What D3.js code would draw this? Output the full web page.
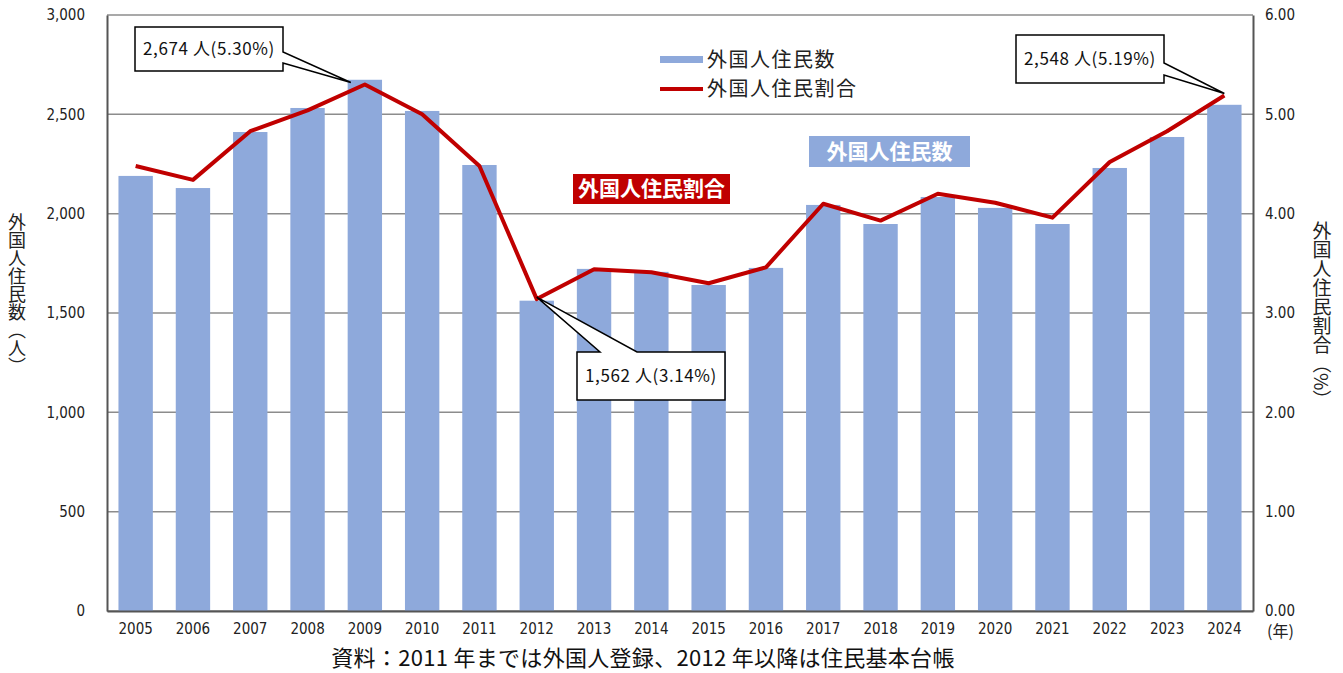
<!DOCTYPE html>
<html>
<head>
<meta charset="utf-8">
<script src="https://cdn.jsdelivr.net/npm/d3@7"></script>
<style>
  body { margin: 0; background: #fff; }
  text { font-family: "Noto Sans CJK JP", "Noto Sans", sans-serif; }
</style>
</head>
<body>
<div id="chart"></div>
<script>
var years = ["2005","2006","2007","2008","2009","2010","2011","2012","2013","2014",
             "2015","2016","2017","2018","2019","2020","2021","2022","2023","2024"];
var residents = [2190, 2129, 2411, 2532, 2674, 2517, 2245, 1562, 1722, 1707,
                 1641, 1727, 2044, 1948, 2084, 2029, 1948, 2230, 2386, 2548];
var ratio = [4.48, 4.34, 4.83, 5.04, 5.30, 5.00, 4.48, 3.14, 3.44, 3.41,
             3.30, 3.46, 4.10, 3.93, 4.20, 4.11, 3.96, 4.52, 4.83, 5.19];
var leftTicks = [0, 500, 1000, 1500, 2000, 2500, 3000];
var rightTicks = [0, 1, 2, 3, 4, 5, 6];

var padding = {top: 15, right: 90, bottom: 62, left: 107};
var width = 1343 - padding.left - padding.right;
var height = 673 - padding.top - padding.bottom;

var x = d3.scaleBand()
  .domain(years)
  .range([0, width])
  .paddingInner(0.4)
  .paddingOuter(0.2);
var y = d3.scaleLinear().domain([0, 3000]).range([height, 0]);
var y2 = d3.scaleLinear().domain([0, 6]).range([height, 0]);

var svg = d3.select("#chart").append("svg")
    .attr("width", 1343)
    .attr("height", 673);
var canvas = svg.append("g")
    .attr("transform", "translate(" + padding.left + "," + padding.top + ")");

// gridlines
canvas.selectAll(".grid")
  .data(leftTicks)
  .enter().append("line")
    .attr("x1", 0).attr("x2", width)
    .attr("y1", function(d) { return y(d); })
    .attr("y2", function(d) { return y(d); })
    .attr("stroke", "#8c8c8c")
    .attr("stroke-width", 1.5);

// bars
canvas.selectAll(".bar")
  .data(residents)
  .enter().append("rect")
    .attr("class", "bar")
    .attr("fill", "#8EA9DB")
    .attr("x", function(d, i) { return x(years[i]); })
    .attr("width", x.bandwidth())
    .attr("y", function(d) { return y(d); })
    .attr("height", function(d) { return height - y(d); });

// axes
var yAxis = d3.axisLeft(y).tickValues(leftTicks).tickSize(0).tickPadding(22)
  .tickFormat(d3.format(","));
var y2Axis = d3.axisRight(y2).tickValues(rightTicks).tickSize(0).tickPadding(12)
  .tickFormat(d3.format(".2f"));
var xAxis = d3.axisBottom(x).tickSize(0).tickPadding(12);

function styleAxis(g) {
  g.select(".domain").attr("stroke", "#555").attr("stroke-width", 2);
  g.selectAll("text").attr("fill", "#222").style("font-size", "15px")
    .style("font-family", "'Liberation Sans Narrow', 'DejaVu Sans Condensed', sans-serif");
}

canvas.append("g").call(yAxis).call(styleAxis);
canvas.append("g").attr("transform", "translate(" + width + ",0)").call(y2Axis).call(styleAxis);
canvas.append("g").attr("transform", "translate(0," + height + ")").call(xAxis).call(styleAxis);

canvas.append("text")
  .attr("x", width + 14).attr("y", height + 26)
  .style("font-size", "16px").attr("fill", "#222")
  .text("(年)");

// line
var line = d3.line()
  .x(function(d, i) { return x(years[i]) + x.bandwidth() / 2; })
  .y(function(d) { return y2(d); });

canvas.append("path")
  .datum(ratio)
  .attr("fill", "none")
  .attr("stroke", "#C00000")
  .attr("stroke-width", 4)
  .attr("stroke-linejoin", "round")
  .attr("d", line);

// axis titles (vertical)
svg.append("text")
  .attr("x", 17).attr("y", 213)
  .style("writing-mode", "vertical-rl")
  .style("font-size", "18px").attr("fill", "#222")
  .text("外国人住民数（人）");
svg.append("text")
  .attr("x", 1322).attr("y", 221)
  .style("writing-mode", "vertical-rl")
  .style("font-size", "19px").attr("fill", "#222")
  .text("外国人住民割合（%）");

// legend
var legend = canvas.append("g").attr("transform", "translate(553,0)");
legend.append("rect").attr("x", 0).attr("y", 41).attr("width", 43).attr("height", 7).attr("fill", "#8EA9DB");
legend.append("text").attr("x", 47).attr("y", 52).style("font-size", "20px")
  .style("letter-spacing", "1.5px").attr("fill", "#222").text("外国人住民数");
legend.append("line").attr("x1", 0).attr("x2", 43).attr("y1", 74).attr("y2", 74)
  .attr("stroke", "#C00000").attr("stroke-width", 4);
legend.append("text").attr("x", 47).attr("y", 81).style("font-size", "20px")
  .style("letter-spacing", "1.5px").attr("fill", "#222").text("外国人住民割合");

// series labels
function tagLabel(px, py, w, h, fill, label, size) {
  canvas.append("rect").attr("x", px).attr("y", py).attr("width", w).attr("height", h).attr("fill", fill);
  canvas.append("text").attr("x", px + w / 2).attr("y", py + h / 2 + 7)
    .attr("text-anchor", "middle").attr("fill", "#fff")
    .style("font-size", size + "px").style("font-weight", "bold").text(label);
}
tagLabel(466, 159, 157, 30, "#C00000", "外国人住民割合", 21);
tagLabel(702, 121, 161, 31, "#8EA9DB", "外国人住民数", 21);

// callouts
function callout(i, dx, bx, by, bw, bh, wedge) {
  var tx = x(years[i]) + x.bandwidth() / 2 + dx;
  var ty = y2(ratio[i]) - 2;
  var pts;
  if (wedge.side === "right") {
    pts = [[bx, by], [bx + bw, by], [bx + bw, wedge.a], [tx, ty], [bx + bw, wedge.b], [bx + bw, by + bh], [bx, by + bh]];
  } else {
    pts = [[bx, by], [wedge.a, by], [tx, ty], [wedge.b, by], [bx + bw, by], [bx + bw, by + bh], [bx, by + bh]];
  }
  canvas.append("path")
    .attr("d", "M" + pts.join("L") + "Z")
    .attr("fill", "#fff").attr("stroke", "#000").attr("stroke-width", 1.5);
  canvas.append("text")
    .attr("x", bx + bw / 2).attr("y", by + bh / 2 + 6)
    .attr("text-anchor", "middle").attr("fill", "#111")
    .style("font-size", "17px")
    .style("letter-spacing", "0.6px")
    .text(d3.format(",")(residents[i]) + " 人(" + ratio[i].toFixed(2) + "%)");
}
callout(4, -14, 28, 12, 148, 44, {side: "right", a: 37, b: 48});
callout(19, 0, 909, 20, 148, 48, {side: "right", a: 48, b: 60});
callout(7, 0, 470, 337, 148, 48, {side: "top", a: 493, b: 530});

// source note
svg.append("text")
  .attr("x", 643).attr("y", 666)
  .attr("text-anchor", "middle").attr("fill", "#111")
  .style("font-size", "22px")
  .style("letter-spacing", "0.3px")
  .text("資料：2011 年までは外国人登録、2012 年以降は住民基本台帳");
</script>
</body>
</html>
